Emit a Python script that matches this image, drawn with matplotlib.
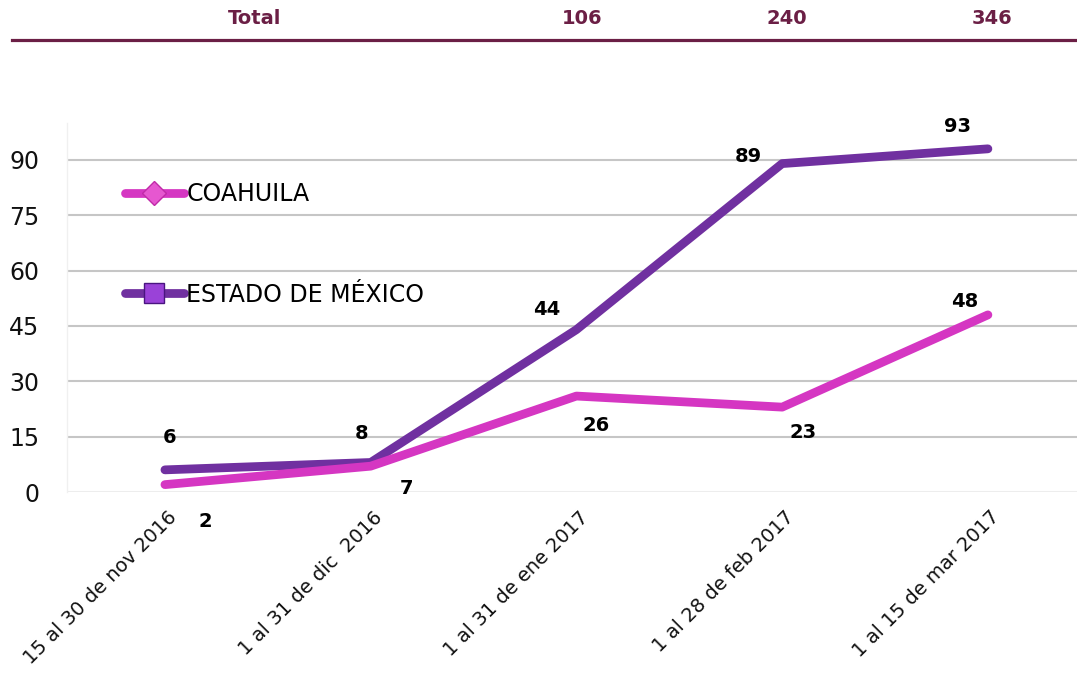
import matplotlib.pyplot as plt
import matplotlib.transforms as mtransforms
from matplotlib.lines import Line2D

plt.rcParams['font.family'] = ['DejaVu Sans']

# Datos
periodos = ['15 al 30 de nov 2016', '1 al 31 de dic  2016', '1 al 31 de ene 2017',
            '1 al 28 de feb 2017', '1 al 15 de mar 2017']
coahuila = [2, 7, 26, 23, 48]
edomex = [6, 8, 44, 89, 93]
encabezado = ['Total', '106', '240', '346']
encabezado_x = [255, 582, 787, 992]  # posición en px de la figura

# Desplazamientos de las etiquetas de datos (px)
off_coah = [(40, -37), (36, -22), (20, -29), (21, -25), (-23, 13)]
off_edo = [(5, 32), (-9, 29), (-30, 20), (-34, 7), (-30, 22)]

C_COAH = '#d536c2'
C_EDO = '#7030a0'
C_TIT = '#6b1f45'

W, H = 1077, 675
fig = plt.figure(figsize=(W / 100, H / 100), dpi=100)
ax = fig.add_axes([67 / W, (H - 492) / H, 1010 / W, 369 / H])

x = list(range(len(periodos)))
ax.plot(x, edomex, color=C_EDO, lw=6.3, solid_capstyle='round', solid_joinstyle='round', zorder=3)
ax.plot(x, coahuila, color=C_COAH, lw=6.3, solid_capstyle='round', solid_joinstyle='round', zorder=4)

for xi, v, (dx, dy) in zip(x, coahuila, off_coah):
    ax.annotate(str(v), (xi, v), xytext=(dx, dy), textcoords='offset pixels',
                ha='center', va='center', fontsize=14, fontweight='bold', color='black')
for xi, v, (dx, dy) in zip(x, edomex, off_edo):
    ax.annotate(str(v), (xi, v), xytext=(dx, dy), textcoords='offset pixels',
                ha='center', va='center', fontsize=14, fontweight='bold', color='black')

ax.set_xlim(-0.476, 4.433)
ax.set_ylim(0, 100)
ax.set_yticks(range(0, 91, 15))
for yv in range(15, 91, 15):
    ax.axhline(yv, color='#c6c6c6', lw=1.5, zorder=1)
ax.axhline(0, color='#ededed', lw=1.5, zorder=1)

for s in ['top', 'right', 'bottom']:
    ax.spines[s].set_visible(False)
ax.spines['left'].set_color('#f0f0f0')
ax.spines['left'].set_linewidth(1.0)

ax.tick_params(axis='y', length=0, pad=20, labelsize=17, labelcolor='#111111')
ax.tick_params(axis='x', length=0, pad=16, labelsize=14, labelcolor='#111111')
ax.set_xticks(x)
ax.set_xticklabels(periodos, rotation=45, ha='right', va='center', rotation_mode='anchor')
shift = mtransforms.ScaledTranslation(9 / 100, 0, fig.dpi_scale_trans)
for lbl in ax.get_xticklabels():
    lbl.set_transform(lbl.get_transform() + shift)

# Leyenda
handles = [
    Line2D([0], [0], color=C_COAH, lw=6.3, solid_capstyle='round', marker='D',
           markersize=12, markerfacecolor='#e657d0', markeredgecolor='#c02aa8'),
    Line2D([0], [0], color=C_EDO, lw=6.3, solid_capstyle='round', marker='s',
           markersize=15, markerfacecolor='#9a42d8', markeredgecolor='#4a1580'),
]
fig.legend(handles, ['COAHUILA', 'ESTADO DE MÉXICO'], loc='upper left',
           bbox_to_anchor=(113 / W, (H - 170) / H), frameon=False, fontsize=17,
           borderpad=0, handlelength=2.5, handletextpad=0.1, labelspacing=3.25)

# Encabezado
for t, xp in zip(encabezado, encabezado_x):
    fig.text(xp / W, (H - 18) / H, t, ha='center', va='center', fontsize=14,
             fontweight='bold', color=C_TIT)
fig.add_artist(Line2D([12 / W, 1], [(H - 40) / H] * 2, color=C_TIT, lw=2.3,
                      transform=fig.transFigure))

fig.savefig('out.png', dpi=100)
